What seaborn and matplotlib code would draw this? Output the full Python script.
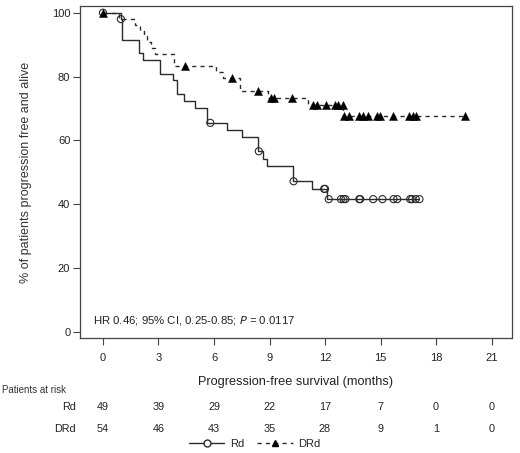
import numpy as np
import pandas as pd
import seaborn as sns
import matplotlib
matplotlib.use('Agg')
from matplotlib import pyplot as plt
from matplotlib.lines import Line2D

sns.set_style('white')
plt.rcParams['font.family'] = ['Liberation Sans', 'DejaVu Sans']

# Kaplan-Meier steps: (time in months, % after the drop)
rd_t = [0, 0.95, 1.05, 1.97, 2.14, 3.1, 3.8, 3.98, 4.4, 4.97, 5.6, 6.68, 7.5, 8.38,
        8.65, 8.85, 10.25, 11.3, 12.08, 17.1]
rd_s = [100, 98.0, 91.6, 87.4, 85.3, 80.9, 78.8, 74.6, 72.4, 70.3, 65.5, 63.3, 61.1,
        56.6, 54.2, 51.9, 47.2, 44.8, 41.6, 41.6]
rd_cens = [0, 0.97, 5.8, 8.42, 10.3, 11.95, 12.0, 12.2, 12.86, 13.0, 13.1, 13.85, 13.9,
           14.6, 15.1, 15.7, 15.9, 16.6, 16.7, 16.9, 17.1]

drd_t = [0, 0.85, 1.75, 2.0, 2.2, 2.4, 2.6, 2.8, 3.84, 6.1, 6.5, 7.4, 8.9, 11.1, 12.98, 19.6]
drd_s = [100, 98.1, 96.3, 94.4, 92.6, 90.7, 88.9, 87.0, 83.3, 81.4, 79.4, 75.5, 73.4,
         71.2, 67.6, 67.6]
drd_cens = [0, 4.43, 6.95, 8.4, 9.08, 9.26, 10.2, 11.37, 11.55, 12.05, 12.54, 12.72,
            12.96, 13.0, 13.3, 13.86, 14.07, 14.34, 14.8, 14.97, 15.66, 16.54, 16.74,
            16.92, 19.57]

risk_times = [0, 3, 6, 9, 12, 15, 18, 21]
rd_risk = [49, 39, 29, 22, 17, 7, 0, 0]
drd_risk = [54, 46, 43, 35, 28, 9, 1, 0]


def at(times, steps_t, steps_s):
    idx = np.searchsorted(steps_t, times, side='right') - 1
    return np.array(steps_s)[idx]


rd = pd.DataFrame({'t': rd_t, 's': rd_s})
drd = pd.DataFrame({'t': drd_t, 's': drd_s})
rd_c = pd.DataFrame({'t': rd_cens, 's': at(rd_cens, rd_t, rd_s)})
drd_c = pd.DataFrame({'t': drd_cens, 's': at(drd_cens, drd_t, drd_s)})

W, H = 520, 453
fig = plt.figure(figsize=(W / 100, H / 100), dpi=100)
ax = fig.add_axes([80 / W, 1 - 338 / H, 432 / W, 332 / H])

lc = '#2b2b2b'
sns.lineplot(data=rd, x='t', y='s', ax=ax, color=lc, lw=1.0, drawstyle='steps-post',
             estimator=None, sort=False)
sns.lineplot(data=drd, x='t', y='s', ax=ax, color=lc, lw=1.0, drawstyle='steps-post',
             estimator=None, sort=False, linestyle=(0, (3, 3)))
sns.scatterplot(data=rd_c, x='t', y='s', ax=ax, marker='o', s=26, facecolor='none',
                edgecolor=lc, linewidth=0.8, zorder=3)
sns.scatterplot(data=drd_c, x='t', y='s', ax=ax, marker='^', s=34, color='black',
                edgecolor='black', linewidth=0.3, zorder=4)

ax.set_xlim(-1.24, 22.1)
ax.set_ylim(-1.9, 102.1)
ax.set_xticks(risk_times)
ax.set_yticks([0, 20, 40, 60, 80, 100])
ax.tick_params(axis='both', direction='out', length=5, width=0.8, color='#444',
               labelsize=8, labelcolor='#222', bottom=True, left=True)
ax.tick_params(axis='x', pad=6)
ax.tick_params(axis='y', pad=2)
for sp in ax.spines.values():
    sp.set_color('#444')
    sp.set_linewidth(0.9)

ax.set_xlabel('Progression-free survival (months)', fontsize=9.2, color='#222', labelpad=9)
ax.set_ylabel('% of patients progression free and alive', fontsize=9, color='#333',
              labelpad=14)

ax.text(0.03, 0.052, 'HR 0.46; 95% CI, 0.25-0.85; $\\it{P}$ = 0.0117',
        transform=ax.transAxes, fontsize=8.2, color='#222', va='center', ha='left')

# numbers at risk
fig.text(2 / W, 1 - 390 / H, 'Patients at risk', fontsize=7, color='#333', va='center')
for lab, row, y in [('Rd', rd_risk, 407), ('DRd', drd_risk, 429)]:
    fig.text(76 / W, 1 - y / H, lab, fontsize=7.8, color='#222', ha='right', va='center')
    for t, n in zip(risk_times, row):
        xpix = ax.transData.transform((t, 0))[0]
        fig.text(xpix / W, 1 - y / H, str(n), fontsize=7.8, color='#222',
                 ha='center', va='center')

handles = [Line2D([], [], color=lc, lw=1.0, marker='o', mfc='white', mec=lc, ms=5),
           Line2D([], [], color=lc, lw=1.0, ls=(0, (3, 3)), marker='^', mfc='black',
                  mec='black', ms=5)]
fig.legend(handles=handles, labels=['Rd', 'DRd'], loc='center',
           bbox_to_anchor=(0.49, 1 - 444 / H), ncol=2, frameon=False, fontsize=8,
           handlelength=3.2, columnspacing=1.2, handletextpad=0.5, borderpad=0)

fig.savefig('out.png', dpi=100, facecolor='white')
